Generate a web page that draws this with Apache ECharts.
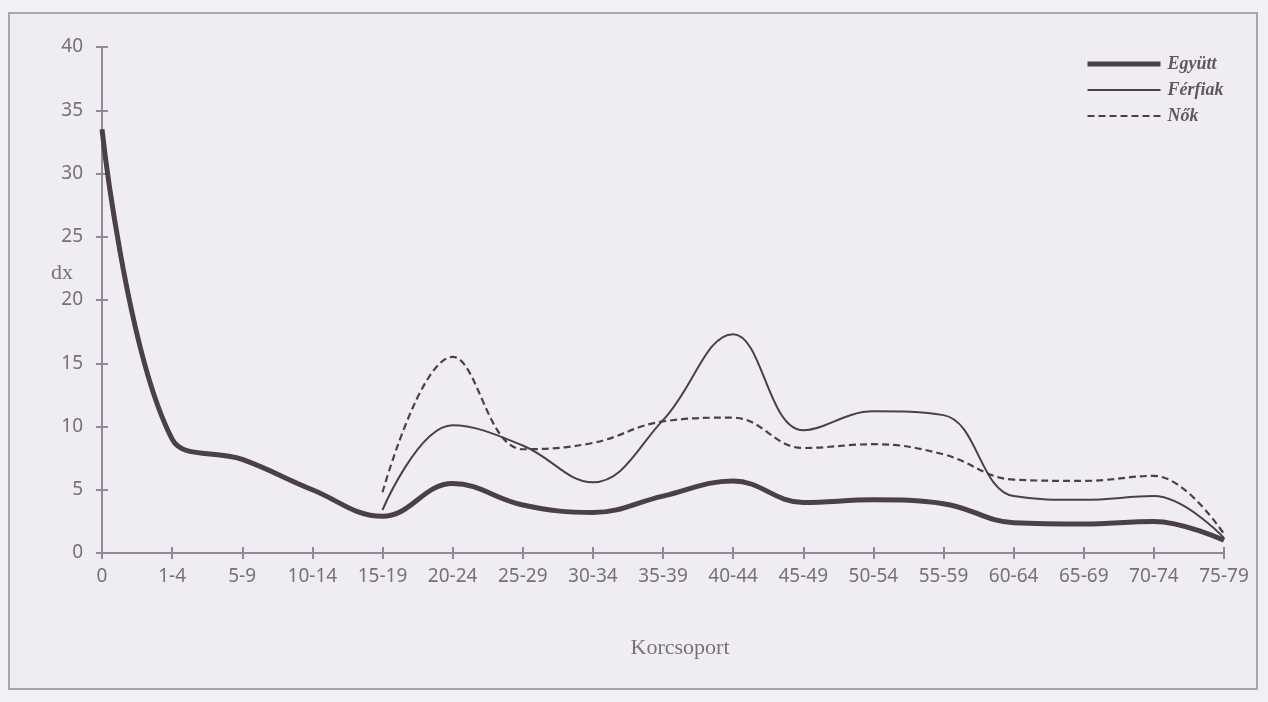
<!DOCTYPE html>
<html>
<head>
<meta charset="utf-8">
<script src="https://cdn.jsdelivr.net/npm/echarts@6/dist/echarts.min.js"></script>
<style>
  html, body { margin: 0; padding: 0; background: #f2f0f4; }
  #frame {
    position: absolute; left: 8px; top: 12px; width: 1250px; height: 678px;
    border: 2px solid #a9a6ad; box-sizing: border-box; background: #efedf3;
  }
  #chart { position: absolute; left: 0; top: 0; width: 1268px; height: 702px; }
</style>
</head>
<body>
<div id="frame"></div>
<div id="chart"></div>
<script>
// Age groups (korcsoport)
const categories = ['0', '1-4', '5-9', '10-14', '15-19', '20-24', '25-29', '30-34', '35-39',
  '40-44', '45-49', '50-54', '55-59', '60-64', '65-69', '70-74', '75-79'];

// dx values per age group
const egyutt = [33.5, 9.0, 7.4, 5.0, 2.9, 5.5, 3.8, 3.2, 4.5, 5.7, 4.0, 4.2, 3.9, 2.4, 2.3, 2.5, 1.0];
const ferfiak = [null, null, null, null, 3.4, 10.1, 8.5, 5.6, 10.5, 17.3, 9.7, 11.2, 10.9, 4.5, 4.2, 4.5, 1.2];
const nok = [null, null, null, null, 4.8, 15.5, 8.2, 8.7, 10.4, 10.7, 8.3, 8.6, 7.8, 5.8, 5.7, 6.1, 1.5];

const yTicks = { min: 0, max: 40, interval: 5 };

const axisGray = '#8f8a93';
const textGray = '#767179';
const lineDark = '#4b4049';

const chart = echarts.init(document.getElementById('chart'), null, { renderer: 'canvas' });

const baseX = {
  type: 'category',
  data: categories,
  boundaryGap: false,
  position: 'bottom'
};
const baseY = {
  type: 'value',
  min: yTicks.min,
  max: yTicks.max,
  interval: yTicks.interval,
  position: 'left',
  splitLine: { show: false }
};

chart.setOption({
  animation: false,
  grid: { left: 102, right: 44, top: 47, bottom: 149 },
  legend: {
    orient: 'vertical',
    left: 1080,
    top: 50,
    itemWidth: 73,
    itemHeight: 20,
    itemGap: 8,
    itemStyle: { opacity: 0 },
    lineStyle: { width: 'inherit' },
    textStyle: {
      fontFamily: 'Liberation Serif',
      fontStyle: 'italic',
      fontWeight: 'bold',
      fontSize: 18,
      color: '#5e5860',
      padding: [0, 0, 0, 2]
    },
    data: ['Együtt', 'Férfiak', 'Nők']
  },
  xAxis: [
    Object.assign({}, baseX, {
      name: 'Korcsoport',
      nameLocation: 'middle',
      nameGap: 84,
      nameMoveOverlap: false,
      nameTextStyle: { fontFamily: 'Liberation Serif', fontSize: 22, color: textGray, padding: [0, 0, 0, 34] },
      axisLine: { lineStyle: { color: axisGray, width: 2 } },
      axisTick: { show: true, inside: false, length: 6, interval: 0, lineStyle: { color: axisGray, width: 2 } },
      axisLabel: { interval: 0, margin: 14, fontFamily: 'Noto Sans', fontSize: 19, color: textGray }
    }),
    Object.assign({}, baseX, {
      axisLine: { show: false },
      axisTick: { show: true, inside: true, length: 6, interval: 0, lineStyle: { color: axisGray, width: 2 } },
      axisLabel: { show: false }
    })
  ],
  yAxis: [
    Object.assign({}, baseY, {
      name: 'dx',
      nameLocation: 'middle',
      nameRotate: 0,
      nameGap: 29,
      nameMoveOverlap: false,
      nameTextStyle: {
        fontFamily: 'Liberation Serif', fontSize: 22, color: textGray,
        align: 'right', verticalAlign: 'bottom', padding: [0, 0, 16, 0]
      },
      axisLine: { show: true, lineStyle: { color: axisGray, width: 2 } },
      axisTick: { show: true, inside: false, length: 6, lineStyle: { color: axisGray, width: 2 } },
      axisLabel: { margin: 19, fontFamily: 'Noto Sans', fontSize: 19, color: textGray }
    }),
    Object.assign({}, baseY, {
      axisLine: { show: false },
      axisTick: { show: true, inside: true, length: 6, lineStyle: { color: axisGray, width: 2 } },
      axisLabel: { show: false }
    })
  ],
  series: [
    {
      name: 'Férfiak', type: 'line', data: ferfiak, smooth: 0.4, symbol: 'none',
      lineStyle: { color: lineDark, width: 2 }, itemStyle: { color: lineDark }
    },
    {
      name: 'Nők', type: 'line', data: nok, smooth: 0.4, symbol: 'none',
      lineStyle: { color: lineDark, width: 2.2, type: [7, 4] }, itemStyle: { color: lineDark }
    },
    {
      name: 'Együtt', type: 'line', data: egyutt, smooth: 0.4, symbol: 'none',
      lineStyle: { color: lineDark, width: 5 }, itemStyle: { color: lineDark }
    }
  ]
});
</script>
</body>
</html>
